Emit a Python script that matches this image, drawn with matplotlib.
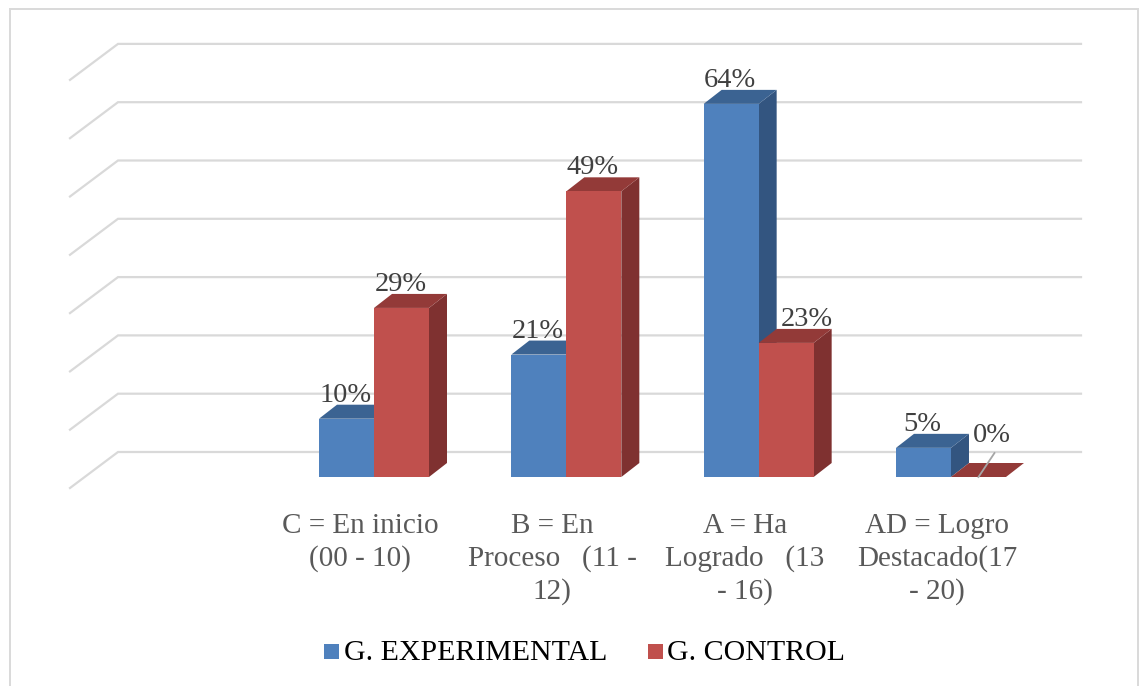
import matplotlib
matplotlib.use("Agg")
import matplotlib.pyplot as plt
from matplotlib.patches import Polygon, Rectangle

plt.rcParams['font.family'] = ['Liberation Serif', 'DejaVu Serif']

categories = ["C = En inicio\n(00 - 10)", "B = En\nProceso   (11 -\n12)",
              "A = Ha\nLogrado   (13\n- 16)", "AD = Logro\nDestacado(17\n- 20)"]
experimental = [10, 21, 64, 5]
control = [29, 49, 23, 0]
series_names = ["G. EXPERIMENTAL", "G. CONTROL"]
gridvals = [0, 10, 20, 30, 40, 50, 60, 70]

W, H = 1140, 686
fig = plt.figure(figsize=(W / 100, H / 100), dpi=100)
ax = fig.add_axes([0, 0, 1, 1])

# scale: pixels per data unit
PX = 192.33
PY = 5.83
X0, Y0 = 374.0, 477.0
ax.set_xlim(-X0 / PX, (W - X0) / PX)
ax.set_ylim((Y0 - H) / PY, Y0 / PY)
ax.axis('off')

def dx(p): return p / PX
def dy(p): return p / PY
def fx(p): return (p - X0) / PX
def fy(p): return (Y0 - p) / PY

BW = 55 / PX
DX, DY = dx(18), dy(14)

# outer frame (open at the bottom)
ax.plot([fx(10.5), fx(10.5), fx(1137.5), fx(1137.5)], [fy(686), fy(8.5), fy(8.5), fy(686)],
        color='#d9d9d9', lw=1.4, zorder=1, solid_joinstyle='miter')

# gridlines on walls
GRID_BACK = dy(25)
for g in gridvals:
    yb = g + GRID_BACK
    ax.plot([fx(70), fx(118), fx(1081)], [yb - dy(36), yb, yb],
            color='#d9d9d9', lw=1.6, zorder=2, solid_joinstyle='miter')

def bar3d(x, v, front, top, side, z):
    ax.add_patch(Polygon([(x + BW, 0), (x + BW + DX, DY), (x + BW + DX, v + DY), (x + BW, v)],
                         closed=True, fc=side, ec='none', zorder=z))
    ax.add_patch(Polygon([(x, v), (x + BW, v), (x + BW + DX, v + DY), (x + DX, v + DY)],
                         closed=True, fc=top, ec='none', zorder=z + 0.1))
    if v > 0:
        ax.add_patch(Rectangle((x, 0), BW, v, fc=front, ec='none', zorder=z + 0.2))

TXT = '#404040'
FS = 20.5
LABEL_UP = 23.5
for i, (e, c) in enumerate(zip(experimental, control)):
    bar3d(i - BW, e, '#4f81bd', '#3b6392', '#335580', 3 + i)
    bar3d(i, c, '#c0504d', '#933a38', '#7f3130', 3.5 + i)
    ax.text(i - BW / 2 - dx(1), e + dy(LABEL_UP), f"{e}%", ha='center', va='center',
            fontsize=FS, color=TXT, zorder=10)
    if c > 0:
        # the label that would sit on the taller neighbour is pushed to the right
        shift = 21 if e > c else -1
        ax.text(i + BW / 2 + dx(shift), c + dy(LABEL_UP), f"{c}%", ha='center', va='center',
                fontsize=FS, color=TXT, zorder=10)
    else:
        ax.plot([i + BW / 2, i + BW / 2 + dx(16)], [c, c + dy(24)], color='#a6a6a6', lw=1.3, zorder=9)
        ax.text(i + BW / 2 + dx(13.5), c + dy(42), f"{c}%", ha='center', va='center',
                fontsize=FS, color=TXT, zorder=10)
    ax.text(i - dx(14), dy(-36), categories[i], ha='center', va='top', fontsize=21, color='#595959',
            linespacing=1.3, zorder=10)

# legend
for name, col, xs, xt in zip(series_names, ['#4f81bd', '#c0504d'], [324, 648], [344, 667]):
    ax.add_patch(Rectangle((fx(xs), fy(659)), dx(15), dy(15), fc=col, ec='none', zorder=10))
    ax.text(fx(xt), fy(653), name, ha='left', va='center', fontsize=21.5, color='black', zorder=10)

fig.savefig("out.png", dpi=100)
